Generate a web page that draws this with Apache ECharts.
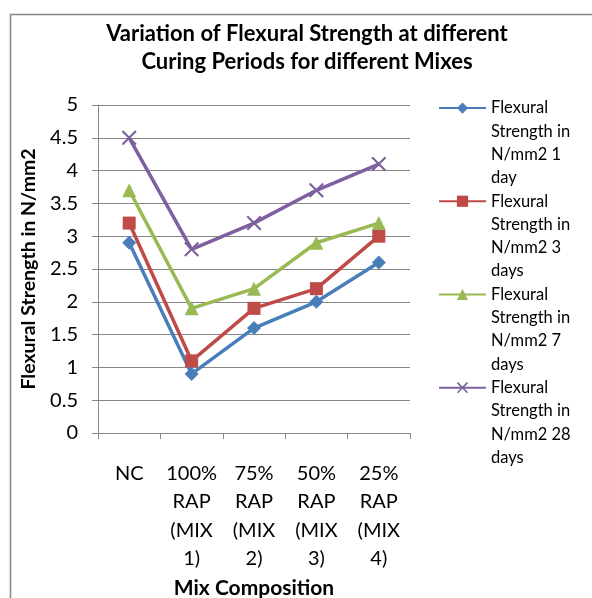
<!DOCTYPE html>
<html>
<head>
<meta charset="utf-8">
<script src="https://cdn.jsdelivr.net/npm/echarts@6/dist/echarts.min.js"></script>
<style>
  html, body { margin: 0; padding: 0; background: #fff; }
  #chart { width: 592px; height: 598px; }
</style>
</head>
<body>
<div id="chart"></div>
<script>
const categories = ['NC', '100%\nRAP\n(MIX\n1)', '75%\nRAP\n(MIX\n2)', '50%\nRAP\n(MIX\n3)', '25%\nRAP\n(MIX\n4)']
const seriesNames = [
  'Flexural\nStrength in\nN/mm2 1\nday',
  'Flexural\nStrength in\nN/mm2 3\ndays',
  'Flexural\nStrength in\nN/mm2 7\ndays',
  'Flexural\nStrength in\nN/mm2 28\ndays'
]
const day1 = [2.9, 0.9, 1.6, 2.0, 2.6]
const day3 = [3.2, 1.1, 1.9, 2.2, 3.0]
const day7 = [3.7, 1.9, 2.2, 2.9, 3.2]
const day28 = [4.5, 2.8, 3.2, 3.7, 4.1]
const yTicks = [0, 0.5, 1, 1.5, 2, 2.5, 3, 3.5, 4, 4.5, 5]

const font = 'Lato'
const colors = ['#4A7EBB', '#BE4B48', '#98B954', '#7D60A0']
const symbols = [
  'diamond',
  'rect',
  'triangle',
  'path://M0,1L1,0L5,4L9,0L10,1L6,5L10,9L9,10L5,6L1,10L0,9L4,5Z'
]
const symbolSizes = [14, 13, 14, 15]
const allData = [day1, day3, day7, day28]

// legend text is 4 lines; 3 blank lines on top keep the icon next to the first line
const legendLine = 23.3

const chart = echarts.init(document.getElementById('chart'))

const option = {
  animation: false,
  backgroundColor: '#fff',
  title: {
    text: 'Variation of Flexural Strength at different\nCuring Periods for different Mixes',
    left: 302,
    top: 15,
    textAlign: 'center',
    textStyle: {
      fontFamily: font,
      fontWeight: 'bold',
      fontSize: 22,
      lineHeight: 28,
      color: '#000'
    }
  },
  graphic: [
    {
      type: 'rect',
      left: 8,
      top: 12,
      shape: { width: 620, height: 620 },
      style: { fill: 'none', stroke: '#868686', lineWidth: 1.5 },
      silent: true
    }
  ],
  legend: {
    orient: 'vertical',
    left: 438,
    top: 26.5,
    padding: 0,
    itemWidth: 47,
    itemHeight: 14,
    itemGap: -3 * legendLine,
    formatter: name => '\n\n\n' + name,
    textStyle: {
      fontFamily: font,
      fontSize: 16.5,
      lineHeight: legendLine,
      color: '#000'
    },
    data: seriesNames
  },
  grid: {
    left: 98,
    right: 182,
    top: 105,
    bottom: 165,
    containLabel: false,
    outerBoundsMode: 'none'
  },
  xAxis: {
    type: 'category',
    data: categories,
    boundaryGap: true,
    name: 'Mix Composition',
    nameLocation: 'middle',
    nameGap: 139,
    nameTextStyle: {
      fontFamily: font,
      fontWeight: 'bold',
      fontSize: 21,
      color: '#000'
    },
    axisLine: { lineStyle: { color: '#868686', width: 1 } },
    axisTick: { show: true, length: 6, lineStyle: { color: '#868686' } },
    axisLabel: {
      margin: 26,
      fontFamily: font,
      fontSize: 20,
      lineHeight: 28.5,
      color: '#000',
      interval: 0
    },
    splitLine: { show: false }
  },
  yAxis: {
    type: 'value',
    min: 0,
    max: 5,
    interval: 0.5,
    name: 'Flexural Strength in N/mm2',
    nameLocation: 'middle',
    nameGap: 47,
    nameTextStyle: {
      fontFamily: font,
      fontWeight: 'bold',
      fontSize: 19.5,
      color: '#000'
    },
    axisLine: { show: true, lineStyle: { color: '#868686', width: 1 } },
    axisTick: { show: true, length: 6, lineStyle: { color: '#868686' } },
    axisLabel: {
      margin: 20,
      fontFamily: font,
      fontSize: 20,
      color: '#000',
      formatter: v => (yTicks.indexOf(v) >= 0 ? String(v) : '')
    },
    splitLine: { show: true, lineStyle: { color: '#868686', width: 1 } }
  },
  series: allData.map((d, i) => ({
    name: seriesNames[i],
    type: 'line',
    data: d,
    symbol: symbols[i],
    symbolSize: symbolSizes[i],
    lineStyle: { color: colors[i], width: 3.5 },
    itemStyle: { color: colors[i] }
  }))
}

chart.setOption(option)
</script>
</body>
</html>
